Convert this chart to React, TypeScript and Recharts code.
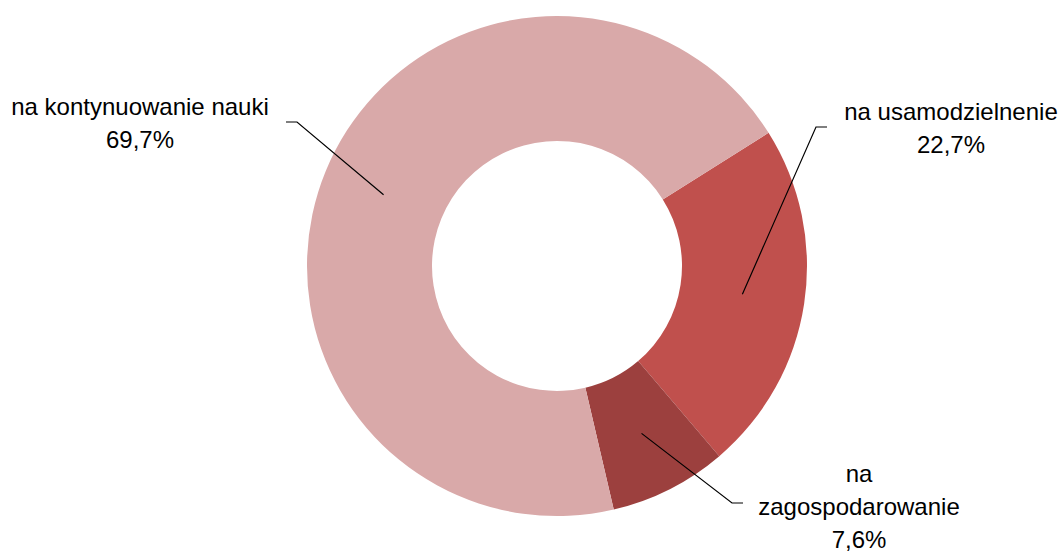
import React from 'react';
import { PieChart, Pie, Cell } from 'recharts';

const categories: string[] = ['na usamodzielnenie', 'na zagospodarowanie', 'na kontynuowanie nauki'];
const shares: number[] = [22.7, 7.6, 69.7];
const labelLines: string[][] = [['na usamodzielnenie'], ['na', 'zagospodarowanie'], ['na kontynuowanie nauki']];
const colors: string[] = ['#C0504D', '#9C403E', '#D9A9A9'];

const data = categories.map((name, i) => ({ name, value: shares[i], lines: labelLines[i] }));

// label placement relative to pie centre: elbow of leader, tail length, text centre, first baseline
const labelLayout = [
    { ex: 259, ey: -139, tail: 11, tx: 394, ty: -146 },
    { ex: 175, ey: 237, tail: 11, tx: 302, ty: 216 },
    { ex: -260, ey: -144, tail: -11, tx: -417, ty: -151 },
];

const RAD = Math.PI / 180;
const fmt = (v: number) => v.toFixed(1).replace('.', ',') + '%';

const renderLabel = (props: any) => {
    const { cx, cy, midAngle, innerRadius, outerRadius, index } = props;
    const r = (innerRadius + outerRadius) / 2;
    const sx = cx + r * Math.cos(-midAngle * RAD);
    const sy = cy + r * Math.sin(-midAngle * RAD);
    const l = labelLayout[index];
    const ex = cx + l.ex;
    const ey = cy + l.ey;
    const lines = [...data[index].lines, fmt(data[index].value)];
    return (
        <g>
            <polyline points={`${sx},${sy} ${ex},${ey} ${ex + l.tail},${ey}`} fill="none" stroke="#000" strokeWidth={1.2} />
            <text x={cx + l.tx} y={cy + l.ty} textAnchor="middle" fontSize={24} fill="#000"
                fontFamily="'Liberation Sans', Arial, sans-serif">
                {lines.map((t, i) => (
                    <tspan key={i} x={cx + l.tx} dy={i === 0 ? 0 : 33}>{t}</tspan>
                ))}
            </text>
        </g>
    );
};

const App: React.FC = () => {
    return (
        <div style={{ position: 'absolute', left: 0, top: 0 }}>
            <PieChart width={1064} height={551} margin={{ top: 0, right: 0, bottom: 0, left: 0 }}>
                <Pie
                    data={data}
                    dataKey="value"
                    nameKey="name"
                    cx={557}
                    cy={266}
                    innerRadius={125}
                    outerRadius={250}
                    startAngle={32.2}
                    endAngle={-327.8}
                    stroke="none"
                    label={renderLabel}
                    labelLine={false}
                    isAnimationActive={false}
                >
                    {data.map((d, i) => (
                        <Cell key={d.name} fill={colors[i]} />
                    ))}
                </Pie>
            </PieChart>
        </div>
    );
};

export default App;
